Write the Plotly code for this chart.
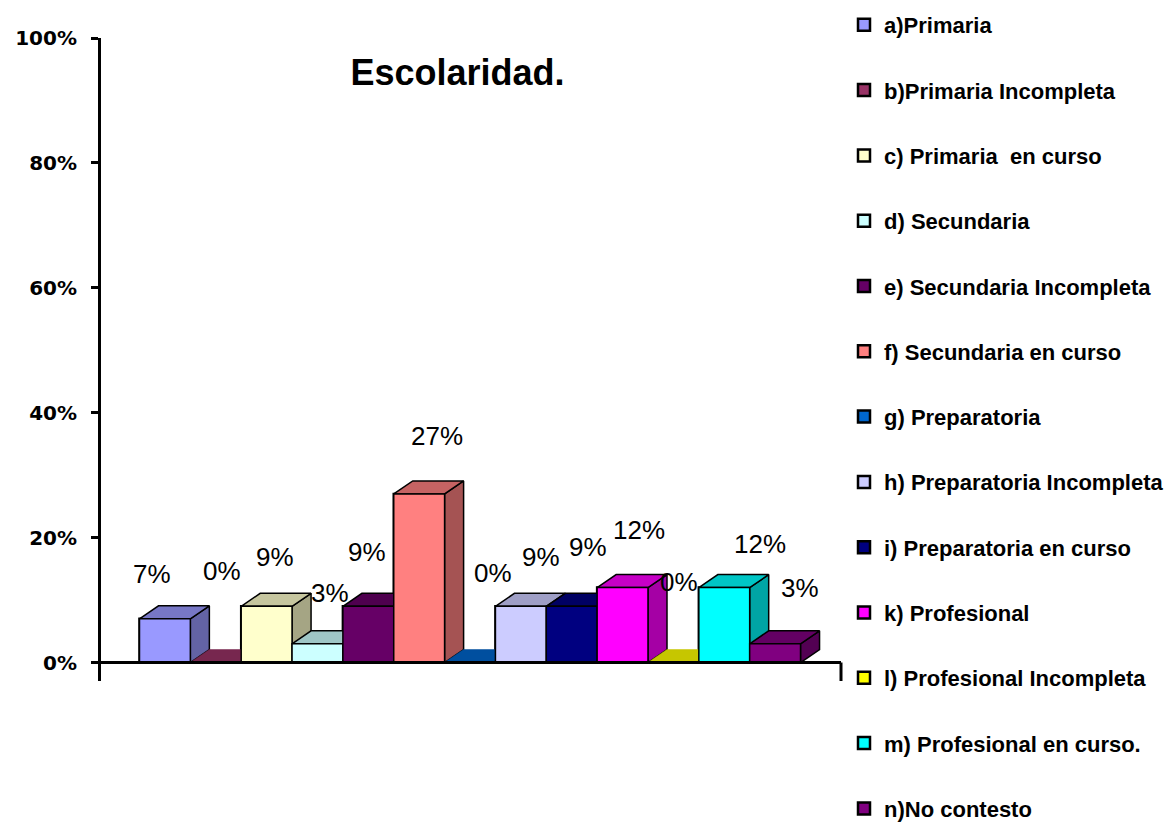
import plotly.graph_objects as go

categories = [
    "a)Primaria",
    "b)Primaria Incompleta",
    "c) Primaria  en curso",
    "d) Secundaria",
    "e) Secundaria Incompleta",
    "f) Secundaria en curso",
    "g) Preparatoria",
    "h) Preparatoria Incompleta",
    "i) Preparatoria en curso",
    "k) Profesional",
    "l) Profesional Incompleta",
    "m) Profesional en curso.",
    "n)No contesto",
]
values = [7, 0, 9, 3, 9, 27, 0, 9, 9, 12, 0, 12, 3]
labels = ["7%", "0%", "9%", "3%", "9%", "27%", "0%", "9%", "9%", "12%", "0%", "12%", "3%"]
tick_vals = [0, 20, 40, 60, 80, 100]
tick_text = ["0%", "20%", "40%", "60%", "80%", "100%"]

# styling
colors = ["#9999FF", "#993366", "#FFFFCC", "#CCFFFF", "#660066", "#FF8080", "#0066CC",
          "#CCCCFF", "#000080", "#FF00FF", "#FFFF00", "#00FFFF", "#800080"]
label_dx = [-13, 6, 8, 13, -1, 18, 23, 20, 16, 16, 6, 36, 25]
label_dy = [45, 92, 49, 51, 54, 58, 90, 49, 59, 58, 81, 44, 56]
DX = 0.374   # 3D depth, x units
DY = 2.08    # 3D depth, y units
Y_MIN = -2.96
OFF = 8      # page body margin
W, H = 1176 - OFF, 822 - OFF


def shade(hexcol, f):
    h = hexcol.lstrip("#")
    r, g, b = (int(h[i:i + 2], 16) for i in (0, 2, 4))
    return "rgb(%d,%d,%d)" % (int(r * f), int(g * f), int(b * f))


fig = go.Figure()

# bars (front faces + legend)
for i, (name, v, c) in enumerate(zip(categories, values, colors)):
    fig.add_trace(go.Bar(
        x=[i], y=[v], width=1, name=name, legendgroup=name,
        marker=dict(color=c, line=dict(color="black", width=2.5)),
        showlegend=True, hoverinfo="skip",
    ))

# 3D faces drawn left to right so later fronts cover earlier sides
for i, (v, c) in enumerate(zip(values, colors)):
    x0, x1 = i - 0.5, i + 0.5
    if v > 0:
        fig.add_trace(go.Scatter(
            x=[x1, x1 + DX, x1 + DX, x1, x1], y=[0, DY, v + DY, v, 0],
            mode="lines", fill="toself", fillcolor=shade(c, 0.65),
            line=dict(color="black", width=1.5), showlegend=False, hoverinfo="skip"))
    fig.add_trace(go.Scatter(
        x=[x0, x1, x1 + DX, x0 + DX, x0], y=[v, v, v + DY, v + DY, v],
        mode="lines", fill="toself", fillcolor=shade(c, 0.78),
        line=dict(color="black" if v > 0 else shade(c, 0.78), width=1.5 if v > 0 else 0.5),
        showlegend=False, hoverinfo="skip"))
    if v > 0:
        fig.add_trace(go.Scatter(
            x=[x0, x1, x1, x0, x0], y=[0, 0, v, v, 0],
            mode="lines", fill="toself", fillcolor=c,
            line=dict(color="black", width=1.5), showlegend=False, hoverinfo="skip"))

# data labels
for i, (v, t) in enumerate(zip(values, labels)):
    fig.add_annotation(x=i, y=v, text=t, showarrow=False,
                       xshift=label_dx[i], yshift=label_dy[i],
                       xanchor="center", yanchor="middle",
                       font=dict(family="Liberation Sans, Arial", size=26, color="black"))

# axis floor lines
fig.add_shape(type="line", xref="paper", yref="y", x0=0, x1=1, y0=0, y1=0,
              line=dict(color="black", width=3))
fig.add_shape(type="line", xref="paper", yref="y", x0=1, x1=1, y0=0, y1=Y_MIN,
              line=dict(color="black", width=3))

ml, mt, pw, ph = 101 - OFF, 38 - OFF, 740, 643
fig.update_layout(
    width=W, height=H,
    paper_bgcolor="white", plot_bgcolor="white",
    margin=dict(l=ml, r=W - ml - pw, t=mt, b=H - mt - ph, pad=0, autoexpand=False),
    barmode="overlay",
    showlegend=True,
    legend=dict(
        x=(844 - 101) / pw, xanchor="left", y=1 + 34 / ph, yanchor="top",
        traceorder="grouped", tracegroupgap=33.7, maxheight=2000,
        font=dict(family="Liberation Sans, Arial", size=22, color="black", weight="bold"),
        bgcolor="rgba(0,0,0,0)",
    ),
    title=dict(text="<b>Escolaridad.</b>", x=(457.5 - OFF) / W, xanchor="center",
               y=1 - (72 - OFF) / H, yanchor="middle",
               font=dict(family="Liberation Sans, Arial", size=36, color="black")),
    xaxis=dict(range=[-1.257, 13.296], visible=False, showgrid=False, zeroline=False),
    yaxis=dict(range=[Y_MIN, 100], tickvals=tick_vals, ticktext=tick_text,
               showgrid=False, zeroline=False, showline=True, linecolor="black", linewidth=3,
               ticks="outside", ticklen=7, tickwidth=2.5, tickcolor="black",
               ticklabelstandoff=10,
               tickfont=dict(family="DejaVu Sans", size=20, color="black", weight="bold")),
)

fig.write_html("out.html")
